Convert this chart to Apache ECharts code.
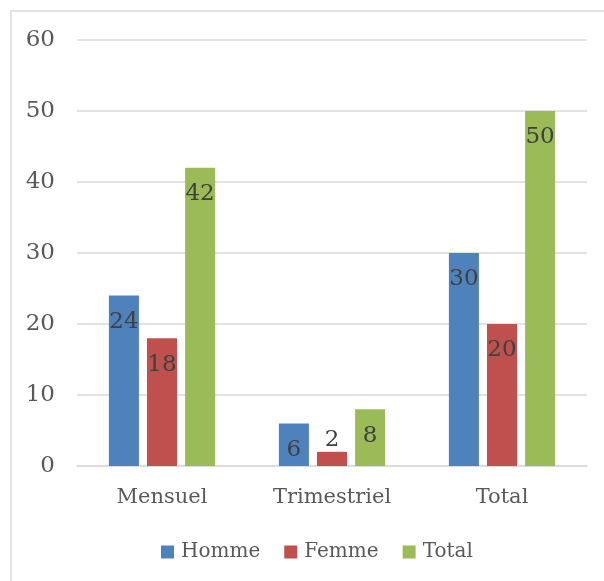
<!DOCTYPE html>
<html>
<head>
<meta charset="utf-8">
<script src="https://cdn.jsdelivr.net/npm/echarts@6/dist/echarts.min.js"></script>
<style>
  html, body { margin: 0; padding: 0; background: #fff; }
  #chart { width: 604px; height: 581px; }
</style>
</head>
<body>
<div id="chart"></div>
<script>
const categories = ['Mensuel', 'Trimestriel', 'Total'];
const homme = [24, 6, 30];
const femme = [18, 2, 20];
const total = [42, 8, 50];
const yTicks = { min: 0, max: 60, interval: 10 };

const fontFamily = '"DejaVu Serif", serif';
const labelText = {
    fontFamily: fontFamily,
    fontSize: 23,
    color: '#404040',
};

// short bars get their label above, like the original
function withLabels(values) {
    return values.map(v => {
        if (v < 4) {
            return { value: v, label: { position: 'top', distance: 0 } };
        }
        return v;
    });
}

function barSeries(name, color, values) {
    return {
        name: name,
        type: 'bar',
        data: withLabels(values),
        barWidth: 30,
        barGap: '27%',
        itemStyle: { color: color },
        label: Object.assign({ show: true, position: 'insideTop', distance: 15 }, labelText),
    };
}

let chart = echarts.init(document.getElementById('chart'));
let option = {
    animation: false,
    graphic: [
        {
            type: 'rect',
            shape: { x: 11, y: 11, width: 800, height: 800 },
            style: { fill: 'none', stroke: '#d9d9d9', lineWidth: 1.5 },
            silent: true,
        },
    ],
    legend: {
        top: 537,
        left: 156,
        itemWidth: 13,
        itemHeight: 13,
        itemGap: 24,
        icon: 'rect',
        textStyle: { fontFamily: fontFamily, fontSize: 20, color: '#595959', padding: [0, 0, 0, 2] },
        data: ['Homme', 'Femme', 'Total'],
    },
    grid: {
        left: 77,
        right: 17,
        top: 40,
        bottom: 115,
    },
    xAxis: {
        type: 'category',
        data: categories,
        axisTick: { show: false },
        axisLine: { lineStyle: { color: '#d9d9d9', width: 1.5 } },
        axisLabel: {
            fontFamily: fontFamily,
            fontSize: 21,
            color: '#595959',
            margin: 21,
        },
    },
    yAxis: {
        type: 'value',
        min: yTicks.min,
        max: yTicks.max,
        interval: yTicks.interval,
        axisLine: { show: false },
        axisTick: { show: false },
        axisLabel: {
            fontFamily: fontFamily,
            fontSize: 23,
            color: '#595959',
            margin: 22,
        },
        splitLine: { lineStyle: { color: '#d9d9d9', width: 1.5 } },
    },
    series: [
        barSeries('Homme', '#4f81bd', homme),
        barSeries('Femme', '#c0504d', femme),
        barSeries('Total', '#9bbb59', total),
    ],
};
chart.setOption(option);
window.addEventListener('resize', () => {
    chart.resize();
});
</script>
</body>
</html>
